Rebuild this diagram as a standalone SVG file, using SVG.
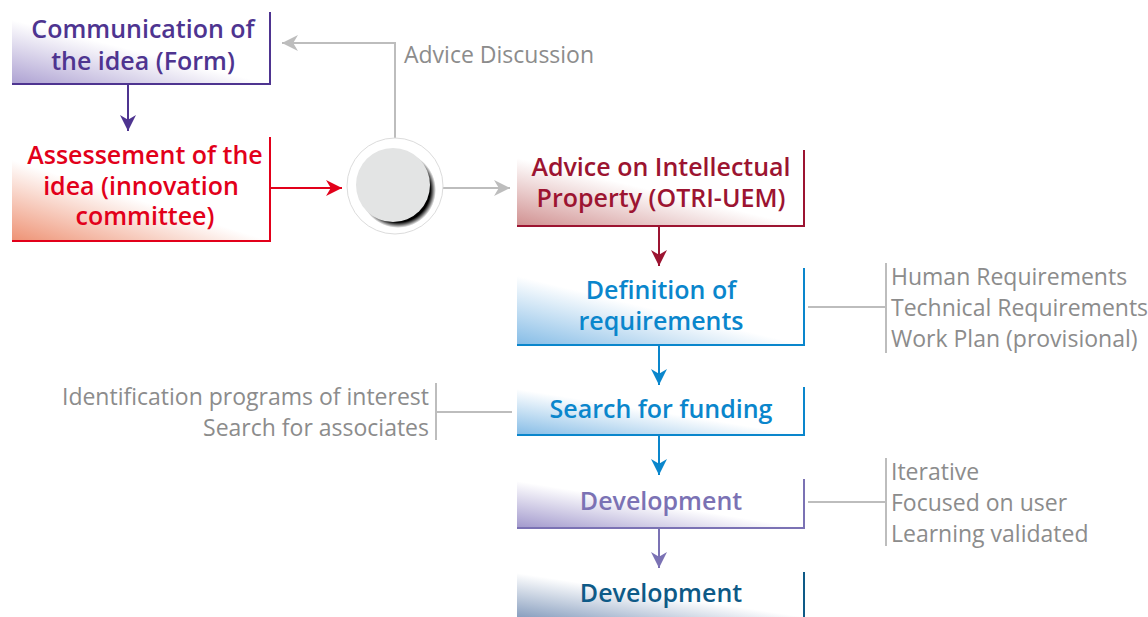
<svg xmlns="http://www.w3.org/2000/svg" width="1148" height="617" viewBox="0 0 1148 617">
<style>
.t{font-family:"Open Sans","Liberation Sans",sans-serif;font-weight:600;font-size:25px;text-anchor:middle}
.g{font-family:"Open Sans","Liberation Sans",sans-serif;font-size:23px;fill:#8c8c8c}
.gl{stroke:#bdbdbd;stroke-width:2;fill:none}
</style>
<defs>
<linearGradient id="gp" x1="0" y1="1" x2="0.5" y2="0.5"><stop offset="0" stop-color="#ada1d2"/><stop offset="1" stop-color="#fff"/></linearGradient>
<linearGradient id="gr" x1="0" y1="1" x2="0.5" y2="0.5"><stop offset="0" stop-color="#ee9274"/><stop offset="1" stop-color="#fff"/></linearGradient>
<linearGradient id="gd" x1="0" y1="1" x2="0.5" y2="0.5"><stop offset="0" stop-color="#d09090"/><stop offset="1" stop-color="#fff"/></linearGradient>
<linearGradient id="gb" x1="0" y1="1" x2="0.5" y2="0.5"><stop offset="0" stop-color="#85bce6"/><stop offset="1" stop-color="#fff"/></linearGradient>
<linearGradient id="gv" x1="0" y1="1" x2="0.5" y2="0.5"><stop offset="0" stop-color="#a198cc"/><stop offset="1" stop-color="#fff"/></linearGradient>
<linearGradient id="gs" x1="0" y1="1" x2="0.5" y2="0.5"><stop offset="0" stop-color="#899fbf"/><stop offset="1" stop-color="#fff"/></linearGradient>
<radialGradient id="sh" cx="0.5" cy="0.5" r="0.5"><stop offset="0.85" stop-color="#000"/><stop offset="1" stop-color="#000" stop-opacity="0"/></radialGradient>
<marker id="mp" viewBox="0 0 10 10" refX="10" refY="5" markerWidth="16" markerHeight="16" markerUnits="userSpaceOnUse" orient="auto"><path d="M0,0 L10,5 L0,10 L3,5 Z" fill="#4e3490"/></marker>
<marker id="mr" viewBox="0 0 10 10" refX="10" refY="5" markerWidth="16" markerHeight="16" markerUnits="userSpaceOnUse" orient="auto"><path d="M0,0 L10,5 L0,10 L3,5 Z" fill="#e2001a"/></marker>
<marker id="mg" viewBox="0 0 10 10" refX="10" refY="5" markerWidth="16" markerHeight="16" markerUnits="userSpaceOnUse" orient="auto"><path d="M0,0 L10,5 L0,10 L3,5 Z" fill="#bdbdbd"/></marker>
<marker id="md" viewBox="0 0 10 10" refX="10" refY="5" markerWidth="16" markerHeight="16" markerUnits="userSpaceOnUse" orient="auto"><path d="M0,0 L10,5 L0,10 L3,5 Z" fill="#9c1431"/></marker>
<marker id="mb" viewBox="0 0 10 10" refX="10" refY="5" markerWidth="16" markerHeight="16" markerUnits="userSpaceOnUse" orient="auto"><path d="M0,0 L10,5 L0,10 L3,5 Z" fill="#0a86cc"/></marker>
<marker id="mv" viewBox="0 0 10 10" refX="10" refY="5" markerWidth="16" markerHeight="16" markerUnits="userSpaceOnUse" orient="auto"><path d="M0,0 L10,5 L0,10 L3,5 Z" fill="#7b72b4"/></marker>
</defs>
<rect width="1148" height="617" fill="#fff"/>

<g id="connectors">
<line x1="128" y1="85" x2="128" y2="131" stroke="#4e3490" stroke-width="2" marker-end="url(#mp)"/>
<line x1="271" y1="188" x2="342" y2="188" stroke="#e2001a" stroke-width="2" marker-end="url(#mr)"/>
<polyline points="395,138 395,43 282,43" class="gl" marker-end="url(#mg)"/>
<line x1="443" y1="188" x2="510" y2="188" class="gl" marker-end="url(#mg)"/>
<line x1="659" y1="227" x2="659" y2="266" stroke="#9c1431" stroke-width="2" marker-end="url(#md)"/>
<line x1="659" y1="346" x2="659" y2="385" stroke="#0a86cc" stroke-width="2" marker-end="url(#mb)"/>
<line x1="659" y1="436" x2="659" y2="475" stroke="#0a86cc" stroke-width="2" marker-end="url(#mb)"/>
<line x1="659" y1="529" x2="659" y2="568" stroke="#7b72b4" stroke-width="2" marker-end="url(#mv)"/>
<line x1="808" y1="307" x2="886" y2="307" class="gl"/>
<line x1="437" y1="412" x2="512" y2="412" class="gl"/>
<line x1="808" y1="502" x2="886" y2="502" class="gl"/>
</g>

<g id="n1">
<rect x="12" y="20" width="258" height="64" fill="url(#gp)"/>
<polyline points="12,84 270,84 270,12" fill="none" stroke="#4e3490" stroke-width="2"/>
<text class="t" fill="#4e3490"><tspan x="143" y="38">Communication of</tspan><tspan x="143" y="70">the idea (Form)</tspan></text>
</g>

<g id="n2">
<rect x="12" y="160" width="258" height="81" fill="url(#gr)"/>
<polyline points="12,241 270,241 270,137" fill="none" stroke="#e2001a" stroke-width="2"/>
<text class="t" fill="#e2001a"><tspan x="145" y="164">Assessement of the</tspan><tspan x="141" y="195">idea (innovation</tspan><tspan x="145" y="225">committee)</tspan></text>
</g>

<g id="hub">
<circle cx="395" cy="186" r="48" fill="#fff" stroke="#dcdcdc" stroke-width="1"/>
<circle cx="398" cy="190" r="38" fill="url(#sh)"/>
<circle cx="393" cy="185" r="37" fill="#e3e4e4"/>
</g>

<g id="n3">
<rect x="517" y="158" width="287" height="68" fill="url(#gd)"/>
<polyline points="517,226 804,226 804,150" fill="none" stroke="#9c1431" stroke-width="2"/>
<text class="t" fill="#9c1431"><tspan x="661" y="176">Advice on Intellectual</tspan><tspan x="661" y="207">Property (OTRI-UEM)</tspan></text>
</g>

<g id="n4">
<rect x="517" y="276" width="287" height="69" fill="url(#gb)"/>
<polyline points="517,345 804,345 804,268" fill="none" stroke="#0a86cc" stroke-width="2"/>
<text class="t" fill="#0a86cc"><tspan x="661" y="299">Definition of</tspan><tspan x="661" y="330">requirements</tspan></text>
</g>

<g id="n5">
<rect x="517" y="389" width="287" height="46" fill="url(#gb)"/>
<polyline points="517,435 804,435 804,387" fill="none" stroke="#0a86cc" stroke-width="2"/>
<text class="t" fill="#0a86cc" x="661" y="418">Search for funding</text>
</g>

<g id="n6">
<rect x="517" y="481" width="287" height="47" fill="url(#gv)"/>
<polyline points="517,528 804,528 804,479" fill="none" stroke="#7b72b4" stroke-width="2"/>
<text class="t" fill="#7b72b4" x="661" y="510">Development</text>
</g>

<g id="n7">
<rect x="517" y="573" width="287" height="44" fill="url(#gs)"/>
<line x1="804" y1="572" x2="804" y2="617" stroke="#0e5a87" stroke-width="2"/>
<text class="t" fill="#0e5a87" x="661" y="602">Development</text>
</g>

<g id="lbl-advice">
<text class="g" x="404" y="63">Advice Discussion</text>
</g>

<g id="note-req">
<line x1="886" y1="263" x2="886" y2="353" class="gl"/>
<text class="g"><tspan x="891" y="285">Human Requirements</tspan><tspan x="891" y="316">Technical Requirements</tspan><tspan x="891" y="347">Work Plan (provisional)</tspan></text>
</g>

<g id="note-fund">
<line x1="436" y1="383" x2="436" y2="440" class="gl"/>
<text class="g" text-anchor="end"><tspan x="429" y="405">Identification programs of interest</tspan><tspan x="429" y="436">Search for associates</tspan></text>
</g>

<g id="note-dev">
<line x1="886" y1="458" x2="886" y2="546" class="gl"/>
<text class="g"><tspan x="891" y="480">Iterative</tspan><tspan x="891" y="511">Focused on user</tspan><tspan x="891" y="542">Learning validated</tspan></text>
</g>
</svg>
